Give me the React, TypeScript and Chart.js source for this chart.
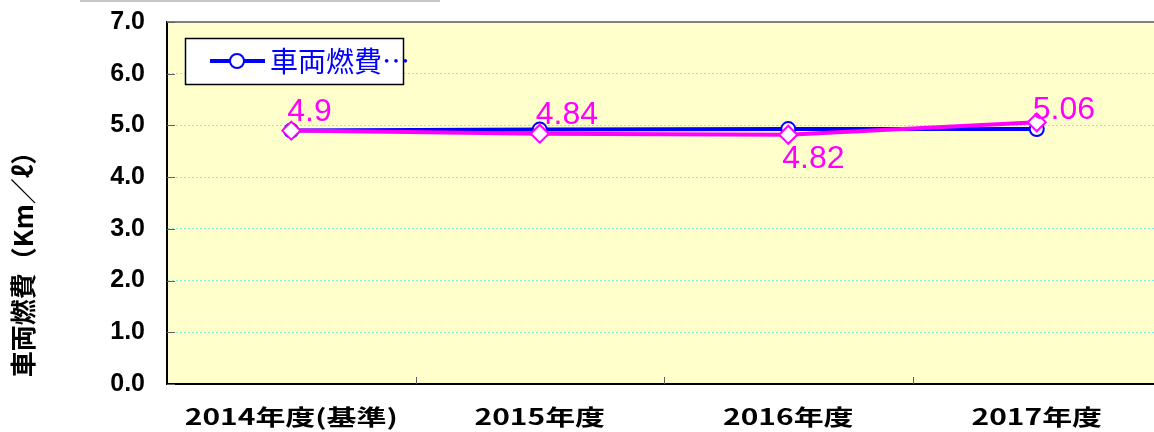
import React, { useEffect, useRef } from "react";
import { Chart, registerables } from "chart.js";

Chart.register(...registerables);

const categories = ["2014年度(基準)", "2015年度", "2016年度", "2017年度"];
const blueValues = [4.9, 4.92, 4.93, 4.93];
const pinkValues = [4.9, 4.84, 4.82, 5.06];
const pinkLabels = ["4.9", "4.84", "4.82", "5.06"];
const labelSide = ["above", "above", "below", "aboveClose"];
const legendText = "車両燃費…";
const yTitle = "車両燃費（Km／ℓ）";
const yMin = 0;
const yMax = 7;
const yStep = 1;

const BLUE = "#0000ff";
const PINK = "#ff00ff";

const decorPlugin = {
  id: "decor",
  beforeDraw(chart: any) {
    const { ctx, chartArea } = chart;
    ctx.save();
    ctx.fillStyle = "#ffffcc";
    ctx.fillRect(chartArea.left, chartArea.top, chartArea.right - chartArea.left, chartArea.bottom - chartArea.top);
    ctx.restore();
  },
  afterDraw(chart: any) {
    const { ctx, chartArea, scales } = chart;
    const x = scales.x;
    const y = scales.y;
    ctx.save();
    // faint line at the very top
    ctx.strokeStyle = "#c8c8c8";
    ctx.lineWidth = 2;
    ctx.beginPath();
    ctx.moveTo(80, 1);
    ctx.lineTo(440, 1);
    ctx.stroke();
    // top border
    ctx.strokeStyle = "#808080";
    ctx.lineWidth = 2;
    ctx.beginPath();
    ctx.moveTo(chartArea.left, chartArea.top);
    ctx.lineTo(chartArea.right, chartArea.top);
    ctx.stroke();
    // inner y ticks
    ctx.strokeStyle = "#606060";
    ctx.lineWidth = 1;
    for (let v = yMin; v <= yMax; v += yStep) {
      const py = Math.round(y.getPixelForValue(v)) + 0.5;
      ctx.beginPath();
      ctx.moveTo(chartArea.left, py);
      ctx.lineTo(chartArea.left + 8, py);
      ctx.stroke();
    }
    // inner x ticks at category boundaries
    for (let i = 1; i < categories.length; i++) {
      const px = Math.round((x.getPixelForValue(i - 1) + x.getPixelForValue(i)) / 2) + 0.5;
      ctx.beginPath();
      ctx.moveTo(px, chartArea.bottom);
      ctx.lineTo(px, chartArea.bottom - 7);
      ctx.stroke();
    }
    ctx.restore();

    // x category labels (horizontally stretched, as in the reference)
    ctx.save();
    ctx.fillStyle = "#000";
    ctx.font = "bold 22px 'Noto Sans CJK JP'";
    ctx.textAlign = "center";
    ctx.textBaseline = "middle";
    categories.forEach((c, i) => {
      ctx.save();
      ctx.translate(x.getPixelForValue(i), 417);
      ctx.scale(1.36, 1);
      ctx.fillText(c, 0, 0);
      ctx.restore();
    });
    ctx.restore();

    // y axis title
    ctx.save();
    ctx.translate(23, 258);
    ctx.rotate(-Math.PI / 2);
    ctx.fillStyle = "#000";
    ctx.font = "bold 26px 'Noto Sans CJK JP'";
    ctx.textAlign = "center";
    ctx.textBaseline = "middle";
    ctx.fillText(yTitle, 0, 0);
    ctx.restore();

    // data labels for pink series
    const meta = chart.getDatasetMeta(1);
    ctx.save();
    ctx.fillStyle = PINK;
    ctx.font = "32px 'Liberation Sans'";
    ctx.textAlign = "left";
    meta.data.forEach((pt: any, i: number) => {
      if (labelSide[i] === "below") {
        ctx.textBaseline = "top";
        ctx.fillText(pinkLabels[i], pt.x - 6, pt.y + 8);
      } else if (labelSide[i] === "aboveClose") {
        ctx.textBaseline = "alphabetic";
        ctx.fillText(pinkLabels[i], pt.x - 4, pt.y - 3);
      } else {
        ctx.textBaseline = "alphabetic";
        ctx.fillText(pinkLabels[i], pt.x - 4, pt.y - 10);
      }
    });
    ctx.restore();

    // legend
    ctx.save();
    ctx.fillStyle = "#fff";
    ctx.fillRect(185, 38, 219, 47);
    ctx.strokeStyle = "#000";
    ctx.lineWidth = 1.5;
    ctx.strokeRect(185.5, 38.5, 218, 46);
    ctx.strokeStyle = BLUE;
    ctx.lineWidth = 4;
    ctx.beginPath();
    ctx.moveTo(210, 61);
    ctx.lineTo(265, 61);
    ctx.stroke();
    ctx.beginPath();
    ctx.arc(237, 61, 7, 0, Math.PI * 2);
    ctx.fillStyle = "#fff";
    ctx.fill();
    ctx.lineWidth = 2;
    ctx.stroke();
    ctx.fillStyle = BLUE;
    ctx.font = "28px 'Noto Sans CJK JP'";
    ctx.textAlign = "left";
    ctx.textBaseline = "middle";
    ctx.fillText(legendText, 270, 61);
    ctx.restore();
  },
};

export default function App() {
  const ref = useRef<HTMLCanvasElement>(null);
  useEffect(() => {
    const canvas = ref.current!;
    const chart = new Chart(canvas, {
      type: "line",
      data: {
        labels: categories,
        datasets: [
          {
            label: "車両燃費",
            data: blueValues,
            borderColor: BLUE,
            backgroundColor: BLUE,
            borderWidth: 4,
            pointStyle: "circle",
            pointRadius: 7,
            pointBorderWidth: 2,
            pointBackgroundColor: "#fff",
            pointBorderColor: BLUE,
            tension: 0,
            order: 1,
          },
          {
            label: "series2",
            data: pinkValues,
            borderColor: PINK,
            backgroundColor: PINK,
            borderWidth: 4,
            pointStyle: "rectRot",
            pointRadius: 9,
            pointBorderWidth: 2,
            pointBackgroundColor: "#fff",
            pointBorderColor: PINK,
            tension: 0,
            order: 0,
          },
        ],
      },
      options: {
        responsive: false,
        animation: false,
        layout: { padding: { top: 22, right: 14, left: 0, bottom: 0 } },
        plugins: { legend: { display: false }, tooltip: { enabled: false } },
        scales: {
          x: {
            type: "category",
            offset: true,
            grid: { display: false, drawTicks: false },
            border: { display: true, color: "#000", width: 2 },
            ticks: { display: false },
            afterFit(scale: any) {
              scale.height = 48;
              scale.paddingLeft = 0;
              scale.paddingRight = 0;
            },
          },
          y: {
            min: yMin,
            max: yMax,
            ticks: {
              stepSize: yStep,
              color: "#000",
              font: { family: "'Liberation Sans'", weight: "bold", size: 25 },
              padding: 22,
              callback: (v: any) => Number(v).toFixed(1),
            },
            grid: { color: "#88eedd", lineWidth: 1, drawTicks: false },
            border: { display: true, color: "#000", width: 2, dash: [2, 2] },
            afterFit(scale: any) {
              scale.width = 167;
              scale.paddingTop = 0;
              scale.paddingBottom = 0;
            },
          },
        },
      },
      plugins: [decorPlugin],
    } as any);
    return () => chart.destroy();
  }, []);
  return (
    <div style={{ position: "fixed", left: 0, top: 0, width: 1154, height: 432, overflow: "hidden", background: "#fff" }}>
      <canvas ref={ref} width={1175} height={432} style={{ display: "block", width: 1175, height: 432 }} />
    </div>
  );
}
